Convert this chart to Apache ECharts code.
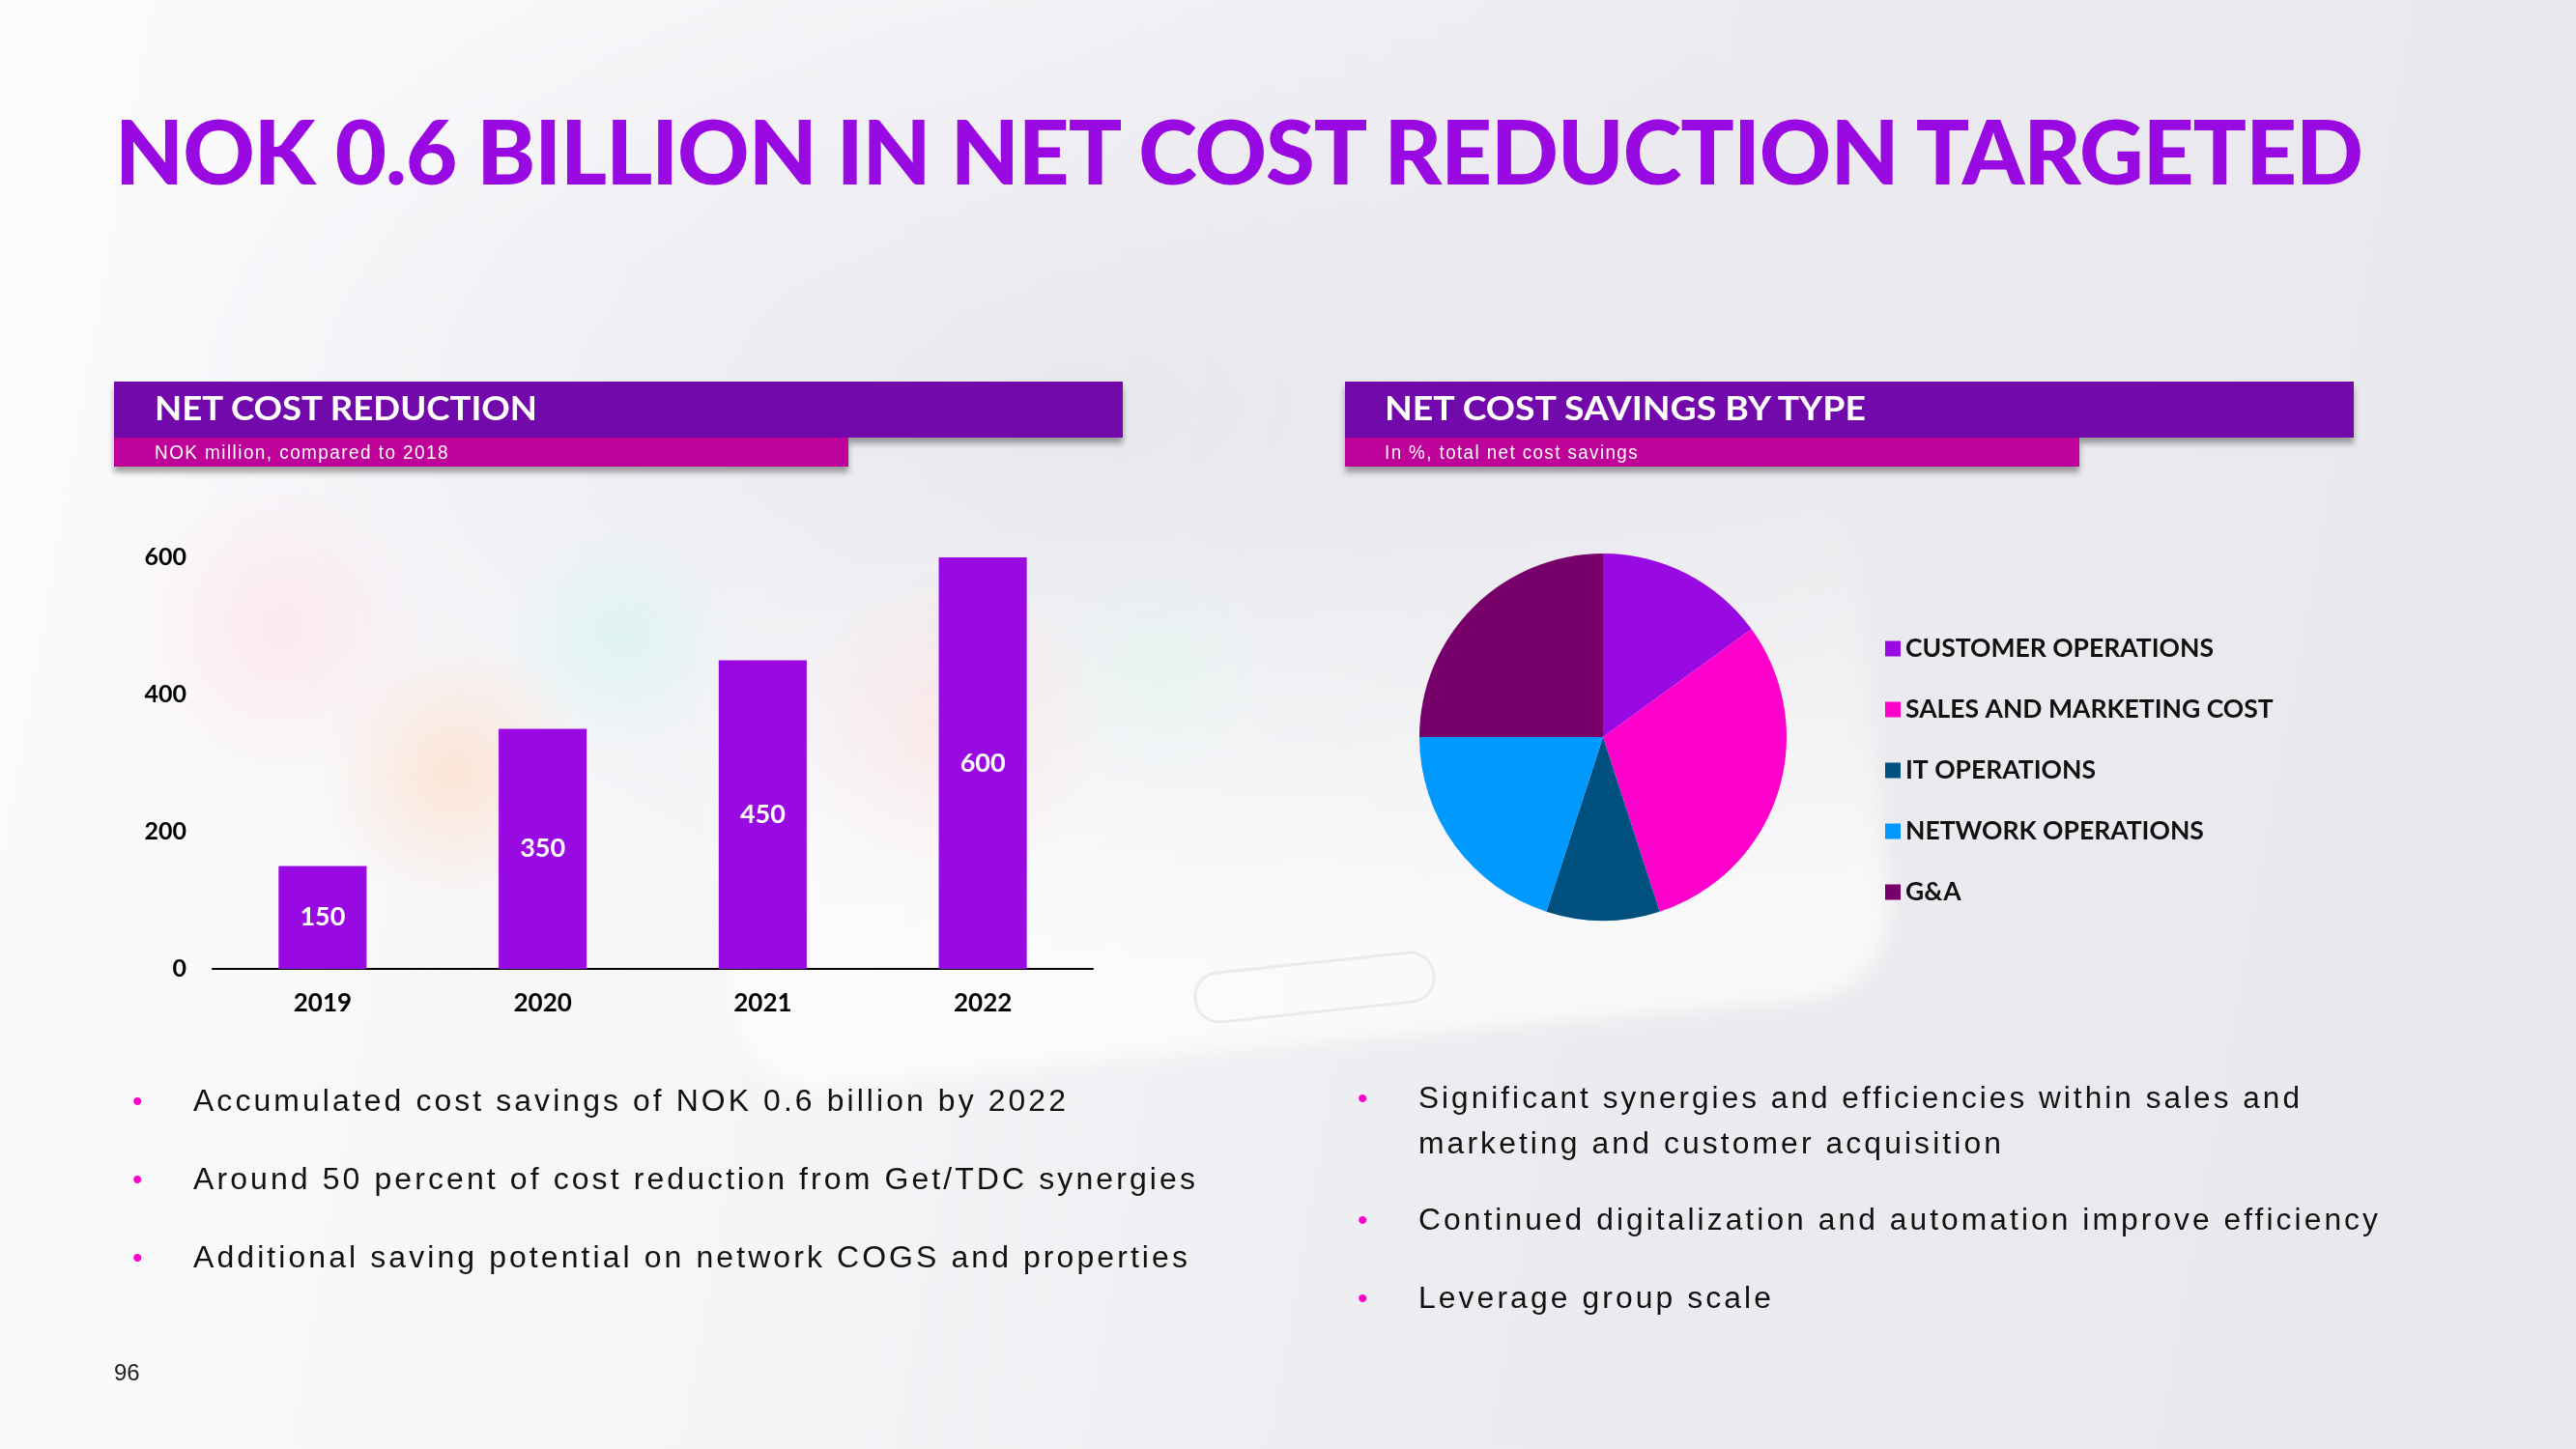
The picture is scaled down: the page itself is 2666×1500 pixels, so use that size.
<!DOCTYPE html>
<html><head><meta charset="utf-8">
<script src="https://cdn.jsdelivr.net/npm/echarts@6/dist/echarts.min.js"></script>
<style>
html,body{margin:0;padding:0;width:2666px;height:1500px;overflow:hidden;}
body{position:relative;
 background:
  radial-gradient(circle at 290px 650px, rgba(255,226,236,0.7) 0, rgba(255,226,236,0) 160px),
  radial-gradient(circle at 470px 800px, rgba(255,218,196,0.65) 0, rgba(255,218,196,0) 140px),
  radial-gradient(circle at 640px 660px, rgba(210,244,238,0.6) 0, rgba(210,244,238,0) 120px),
  radial-gradient(circle at 980px 760px, rgba(255,212,212,0.6) 0, rgba(255,212,212,0) 170px),
  radial-gradient(circle at 1200px 700px, rgba(216,244,234,0.55) 0, rgba(216,244,234,0) 120px),
  radial-gradient(ellipse 1000px 500px at 1100px 420px, rgba(222,222,230,0.55) 0, rgba(222,222,230,0) 100%),
  linear-gradient(100deg, #fbfbfd 0%, #f5f5f8 35%, #ececf0 60%, #e8e8ec 100%);
}
#phone{position:absolute;left:740px;top:520px;width:1200px;height:560px;border-radius:90px;
 background:linear-gradient(to bottom, rgba(255,255,255,0) 0%, rgba(255,255,255,0.35) 45%, rgba(255,255,255,0.7) 85%);
 transform:rotate(-5deg);filter:blur(10px);}
#btn{position:absolute;left:1235px;top:995px;width:245px;height:48px;border-radius:26px;
 border:3px solid rgba(232,232,238,0.9);transform:rotate(-6deg);}
#chart{position:absolute;left:0;top:0;width:2666px;height:1500px;}
.abs{position:absolute;white-space:nowrap;}
.fit{transform-origin:0 50%;}
#title{left:119px;top:96px;font-family:Lato,sans-serif;font-weight:900;font-size:92px;color:#990AE3;line-height:120px;letter-spacing:-1px;}
.hdr{position:absolute;width:1044px;height:58px;background:#7209AA;box-shadow:0 6px 6px rgba(0,0,0,0.35);}
.sub{position:absolute;width:760px;height:30px;background:#BE0199;box-shadow:0 6px 6px rgba(0,0,0,0.35);}
.hdrt{position:absolute;font-family:Lato,sans-serif;font-weight:700;font-size:35px;color:#fff;line-height:58px;white-space:nowrap;}
.subt{position:absolute;font-family:"Liberation Sans",sans-serif;font-size:20px;color:#fff;line-height:30px;letter-spacing:1.5px;white-space:nowrap;}
.bul{position:absolute;font-family:"Liberation Sans",sans-serif;font-size:31px;color:#111;letter-spacing:3px;line-height:47px;white-space:nowrap;}
.dot{position:absolute;font-family:"Liberation Sans",sans-serif;font-size:30px;color:#FF00CD;line-height:47px;}
#pg{left:118px;top:1405px;font-family:"Liberation Sans",sans-serif;font-size:24px;color:#222;line-height:32px;}
</style></head>
<body>
<div id="phone"></div>
<div id="btn"></div>
<div class="hdr" style="left:118px;top:395px;"></div>
<div class="sub" style="left:118px;top:453px;"></div>
<div class="hdr" style="left:1392px;top:395px;"></div>
<div class="sub" style="left:1392px;top:453px;"></div>
<div class="hdr" style="left:118px;top:395px;box-shadow:none;"></div>
<div class="hdr" style="left:1392px;top:395px;box-shadow:none;"></div>
<div class="hdrt fit" data-w="396" style="left:160px;top:392px;">NET COST REDUCTION</div>
<div class="subt fit" data-w="305" style="left:160px;top:453px;">NOK million, compared to 2018</div>
<div class="hdrt fit" data-w="498" style="left:1433px;top:392px;">NET COST SAVINGS BY TYPE</div>
<div class="subt fit" data-w="263" style="left:1433px;top:453px;">In %, total net cost savings</div>
<div id="title" class="abs fit" data-w="2326">NOK 0.6 BILLION IN NET COST REDUCTION TARGETED</div>
<div id="chart"></div>
<div class="dot" style="left:137px;top:1116px;">•</div>
<div class="bul fit" data-w="906" style="left:200px;top:1116px;">Accumulated cost savings of NOK 0.6 billion by 2022</div>
<div class="dot" style="left:137px;top:1197px;">•</div>
<div class="bul fit" data-w="1040" style="left:200px;top:1197px;">Around 50 percent of cost reduction from Get/TDC synergies</div>
<div class="dot" style="left:137px;top:1278px;">•</div>
<div class="bul fit" data-w="1032" style="left:200px;top:1278px;">Additional saving potential on network COGS and properties</div>
<div class="dot" style="left:1405px;top:1113px;">•</div>
<div class="bul fit" data-w="915" style="left:1468px;top:1113px;">Significant synergies and efficiencies within sales and</div>
<div class="bul fit" data-w="606" style="left:1468px;top:1160px;">marketing and customer acquisition</div>
<div class="dot" style="left:1405px;top:1239px;">•</div>
<div class="bul fit" data-w="996" style="left:1468px;top:1239px;">Continued digitalization and automation improve efficiency</div>
<div class="dot" style="left:1405px;top:1320px;">•</div>
<div class="bul fit" data-w="368" style="left:1468px;top:1320px;">Leverage group scale</div>
<div id="pg" class="abs">96</div>
<script>
// ---- data ----
const years = ['2019', '2020', '2021', '2022'];
const netCostReduction = [150, 350, 450, 600];
const yAxisMin = 0;
const yAxisMax = 600;
const yAxisStep = 200;
const savingTypes = ['CUSTOMER OPERATIONS', 'SALES AND MARKETING COST', 'IT OPERATIONS', 'NETWORK OPERATIONS', 'G&A'];
const savingShares = [15, 30, 10, 20, 25];

// ---- styles ----
const typeColors = ['#990AE3', '#FF00CC', '#00507F', '#0099FF', '#78006A'];
const barColor = '#990AE3';

// fit text widths to the reference layout
document.querySelectorAll('.fit').forEach(function(el){
  const w = el.getBoundingClientRect().width;
  const target = parseFloat(el.getAttribute('data-w'));
  if (w > 0 && target > 0) el.style.transform = 'scaleX(' + (target / w) + ')';
});

const chart = echarts.init(document.getElementById('chart'), null, {renderer: 'canvas'});
chart.setOption({
  backgroundColor: 'transparent',
  animation: false,
  grid: {left: 220, right: 2666 - 1131, top: 577, bottom: 1500 - 1003, containLabel: false},
  xAxis: {
    type: 'category', data: years,
    axisLine: {show: true, lineStyle: {color: '#000', width: 2}},
    axisTick: {show: false},
    axisLabel: {color: '#000', fontFamily: 'Lato', fontWeight: 'bold', fontSize: 26, margin: 23}
  },
  yAxis: {
    type: 'value', min: yAxisMin, max: yAxisMax, interval: yAxisStep,
    axisLine: {show: false}, axisTick: {show: false}, splitLine: {show: false},
    axisLabel: {color: '#000', fontFamily: 'Lato', fontWeight: 'bold', fontSize: 25, margin: 27}
  },
  legend: {
    data: savingTypes, orient: 'vertical', left: 1946, top: 653,
    icon: 'rect', itemWidth: 16, itemHeight: 16, itemGap: 36,
    textStyle: {color: '#111', fontFamily: 'Lato', fontWeight: 'bold', fontSize: 26.5, lineHeight: 26, padding: [0, 0, 0, 0]},
    selectedMode: false
  },
  series: [
    {
      type: 'bar', data: netCostReduction, barCategoryGap: '60%',
      itemStyle: {color: barColor},
      label: {show: true, position: 'inside', color: '#fff', fontFamily: 'Lato', fontWeight: 'bold', fontSize: 27},
      silent: true
    },
    {
      type: 'pie', center: [1659, 763], radius: 190, startAngle: 90, clockwise: true,
      label: {show: false}, labelLine: {show: false}, silent: true,
      data: savingTypes.map((n, i) => ({name: n, value: savingShares[i], itemStyle: {color: typeColors[i]}}))
    }
  ]
});
</script>
</body></html>
